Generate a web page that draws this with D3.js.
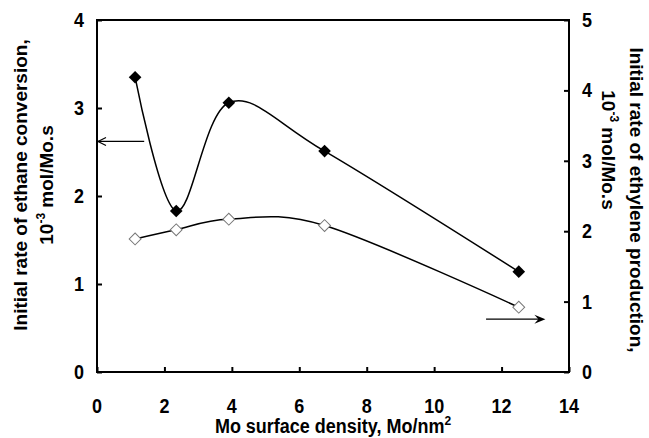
<!DOCTYPE html>
<html>
<head>
<meta charset="utf-8">
<script src="https://cdn.jsdelivr.net/npm/d3@7"></script>
<style>
  body { margin: 0; background: #fff; }
  svg text { font-family: "Liberation Sans", Arial, sans-serif; font-weight: bold; fill: #000; }
</style>
</head>
<body>
<svg id="chart" width="649" height="438"></svg>
<script>
// data
var density = [1.13, 2.35, 3.91, 6.75, 12.51];       // Mo/nm2
var ethaneRate = [3.35, 1.83, 3.06, 2.51, 1.14];     // left axis
var ethyleneRate = [1.89, 2.02, 2.17, 2.08, 0.92];   // right axis

var xTicks = [0, 2, 4, 6, 8, 10, 12, 14];
var leftTicks = [0, 1, 2, 3, 4];
var rightTicks = [0, 1, 2, 3, 4, 5];

// arrows telling which series goes with which axis: [x0, x1, y]
var leftArrow = [1.4, 0, 2.62];
var rightArrow = [11.54, 13.3, 0.75];

var svg = d3.select("#chart");

var m = {left: 97, right: 569, top: 20, bottom: 372};

var x = d3.scaleLinear().domain([0, 14]).range([m.left, m.right]);
var yL = d3.scaleLinear().domain([0, 4]).range([m.bottom, m.top]);
var yR = d3.scaleLinear().domain([0, 5]).range([m.bottom, m.top]);

// frame
svg.append("rect")
  .attr("x", m.left).attr("y", m.top)
  .attr("width", m.right - m.left).attr("height", m.bottom - m.top)
  .attr("fill", "none").attr("stroke", "#000").attr("stroke-width", 2);

// axes, ticks pointing inward
var gx = svg.append("g").attr("transform", "translate(0," + m.bottom + ")")
  .call(d3.axisTop(x).tickValues(xTicks).tickSize(5).tickFormat(""));
var gl = svg.append("g").attr("transform", "translate(" + m.left + ",0)")
  .call(d3.axisRight(yL).tickValues(leftTicks).tickSize(5).tickFormat(""));
var gr = svg.append("g").attr("transform", "translate(" + m.right + ",0)")
  .call(d3.axisLeft(yR).tickValues(rightTicks).tickSize(5).tickFormat(""));
[gx, gl, gr].forEach(function(g){
  g.select(".domain").remove();
  g.selectAll("line").attr("stroke", "#000").attr("stroke-width", 2);
});

// tick labels (slightly tall glyphs, like the original)
svg.selectAll(".xl").data(xTicks).enter().append("text")
  .attr("transform", d => "translate(" + x(d) + ",413) scale(1,1.12)")
  .attr("text-anchor", "middle").style("font-size", "18px")
  .text(d => d);
svg.selectAll(".yl").data(leftTicks).enter().append("text")
  .attr("transform", d => "translate(84," + (yL(d) + 7) + ") scale(1,1.12)")
  .attr("text-anchor", "end").style("font-size", "18px")
  .text(d => d);
svg.selectAll(".yr").data(rightTicks).enter().append("text")
  .attr("transform", d => "translate(582," + (yR(d) + 7) + ") scale(1,1.12)")
  .attr("text-anchor", "start").style("font-size", "18px")
  .text(d => d);

// axis titles
var xt = svg.append("text").attr("transform", "translate(333,433) scale(1,1.1)")
  .attr("text-anchor", "middle").style("font-size", "18px");
xt.append("tspan").text("Mo surface density, Mo/nm");
xt.append("tspan").attr("dy", -7).style("font-size", "12px").text("2");

var lt = svg.append("g").attr("transform", "translate(0,185) rotate(-90)");
lt.append("text").attr("x", 0).attr("y", 27).attr("text-anchor", "middle")
  .style("font-size", "19px").text("Initial rate of ethane conversion,");
var lt2 = lt.append("text").attr("x", 0).attr("y", 53).attr("text-anchor", "middle")
  .style("font-size", "19px");
lt2.append("tspan").text("10");
lt2.append("tspan").attr("dy", -8).style("font-size", "12px").text("-3");
lt2.append("tspan").attr("dy", 8).text(" mol/Mo.s");

var rt = svg.append("g").attr("transform", "translate(649,200) rotate(90)");
rt.append("text").attr("x", 0).attr("y", 19).attr("text-anchor", "middle")
  .style("font-size", "19px").text("Initial rate of ethylene production,");
var rt2 = svg.append("g").attr("transform", "translate(649,150) rotate(90)")
  .append("text").attr("x", 0).attr("y", 47).attr("text-anchor", "middle")
  .style("font-size", "19px");
rt2.append("tspan").text("10");
rt2.append("tspan").attr("dy", -8).style("font-size", "12px").text("-3");
rt2.append("tspan").attr("dy", 8).text(" mol/Mo.s");

// smoothed lines
var ethane = density.map((d, i) => [d, ethaneRate[i]]);
var ethylene = density.map((d, i) => [d, ethyleneRate[i]]);

var lineL = d3.line().x(d => x(d[0])).y(d => yL(d[1])).curve(d3.curveCardinal.tension(0));
var lineR = d3.line().x(d => x(d[0])).y(d => yR(d[1])).curve(d3.curveCardinal.tension(0));

svg.append("path").datum(ethane).attr("d", lineL)
  .attr("fill", "none").attr("stroke", "#000").attr("stroke-width", 1.5);
svg.append("path").datum(ethylene).attr("d", lineR)
  .attr("fill", "none").attr("stroke", "#000").attr("stroke-width", 1.5);

// markers
svg.selectAll(".mk1").data(ethane).enter().append("path")
  .attr("transform", d => "translate(" + x(d[0]) + "," + yL(d[1]) + ") rotate(45)")
  .attr("d", d3.symbol().type(d3.symbolSquare).size(80))
  .attr("fill", "#000");
svg.selectAll(".mk2").data(ethylene).enter().append("path")
  .attr("transform", d => "translate(" + x(d[0]) + "," + yR(d[1]) + ") rotate(45)")
  .attr("d", d3.symbol().type(d3.symbolSquare).size(70))
  .attr("fill", "#fff").attr("stroke", "#777").attr("stroke-width", 1);

// left arrow (open head)
var ay = yL(leftArrow[2]);
svg.append("line").attr("x1", x(leftArrow[0])).attr("x2", x(leftArrow[1]) + 1)
  .attr("y1", ay).attr("y2", ay).attr("stroke", "#000").attr("stroke-width", 1.2);
svg.append("path")
  .attr("d", "M" + (x(leftArrow[1]) + 9) + "," + (ay - 4) + "L" + (x(leftArrow[1]) + 1) + "," + ay +
             "L" + (x(leftArrow[1]) + 9) + "," + (ay + 4))
  .attr("fill", "none").attr("stroke", "#000").attr("stroke-width", 1.2);

// right arrow (filled head)
var by = yR(rightArrow[2]);
var bx = x(rightArrow[1]);
svg.append("line").attr("x1", x(rightArrow[0])).attr("x2", bx - 6)
  .attr("y1", by).attr("y2", by).attr("stroke", "#000").attr("stroke-width", 1.2);
svg.append("path")
  .attr("d", "M" + bx + "," + by + "L" + (bx - 11) + "," + (by - 4.5) + "L" + (bx - 7) + "," + by +
             "L" + (bx - 11) + "," + (by + 4.5) + "Z")
  .attr("fill", "#000");
</script>
</body>
</html>
